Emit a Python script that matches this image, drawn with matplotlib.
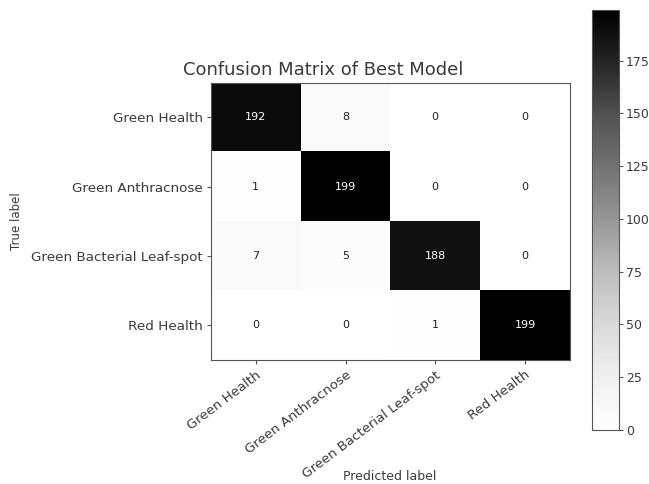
import numpy as np
import matplotlib.pyplot as plt

labels = ["Green Health", "Green Anthracnose", "Green Bacterial Leaf-spot", "Red Health"]
counts = [
    [192, 8, 0, 0],
    [1, 199, 0, 0],
    [7, 5, 188, 0],
    [0, 0, 1, 199],
]
cm = np.array(counts)
txt = '#3a3a3a'
edge = '#555555'

plt.rcParams['font.family'] = 'DejaVu Sans'
fig = plt.figure(figsize=(6.49, 4.84), dpi=100)
ax = fig.add_axes([0.325, 0.256, 0.553, 0.573])
cax = fig.add_axes([0.912, 0.112, 0.042, 0.867])

im = ax.imshow(cm, cmap='Greys', aspect='auto', interpolation='nearest')
cb = fig.colorbar(im, cax=cax)
cb.set_ticks([0, 25, 50, 75, 100, 125, 150, 175])
cb.ax.tick_params(labelsize=9, colors=edge, labelcolor=txt, pad=2, length=3)
cb.outline.set_edgecolor(edge)

# cell counts, white text on the dark diagonal
thresh = cm.max() / 2.0
for i in range(cm.shape[0]):
    for j in range(cm.shape[1]):
        ax.text(j, i, str(cm[i, j]), ha='center', va='center', fontsize=8,
                color='white' if cm[i, j] > thresh else '#222222')

ax.set_xticks(range(len(labels)))
ax.set_yticks(range(len(labels)))
ax.set_xticklabels(labels, rotation=37, ha='right', rotation_mode='anchor',
                   fontsize=9.5)
ax.set_yticklabels(labels, fontsize=9.7)
ax.tick_params(colors=edge, labelcolor=txt, length=3, pad=3)
for s in ax.spines.values():
    s.set_edgecolor(edge)

fig.text(323 / 649, 1 - 70 / 484, "Confusion Matrix of Best Model",
         fontsize=13, color=txt, ha='center', va='center')
fig.text(390 / 649, 1 - 477 / 484, "Predicted label",
         fontsize=9, color=txt, ha='center', va='center')
fig.text(16 / 649, 1 - 221 / 484, "True label", rotation=90,
         fontsize=8.5, color=txt, ha='center', va='center')

fig.savefig('out.png', dpi=100)
